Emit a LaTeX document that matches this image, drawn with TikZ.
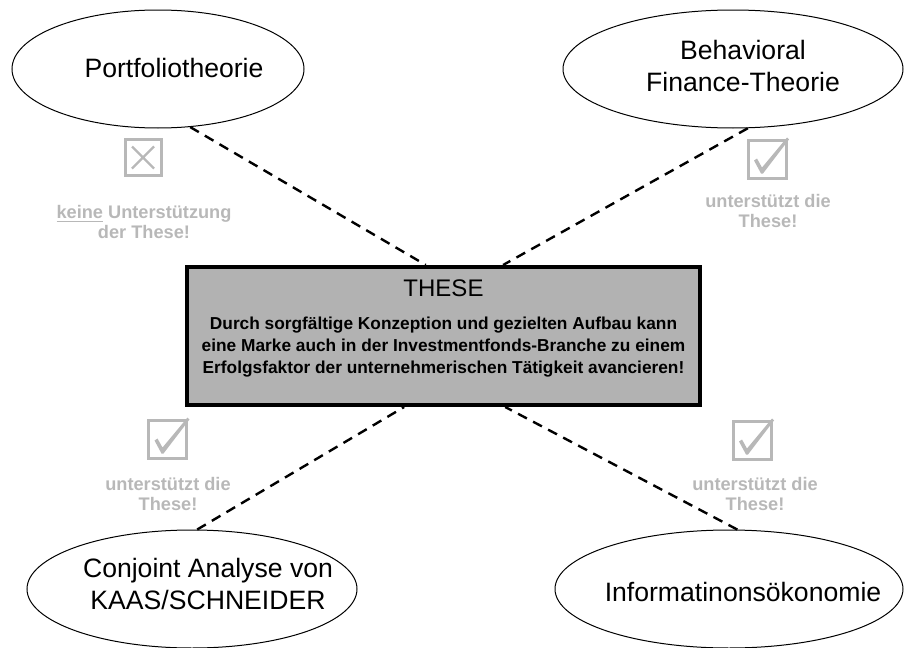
\documentclass[tikz,border=0pt]{standalone}
\usepackage{fontspec}
\setmainfont{Liberation Sans}
\usetikzlibrary{shapes.geometric}
\definecolor{iconGray}{gray}{0.72}
\definecolor{boxGray}{gray}{0.7}
\begin{document}
\begin{tikzpicture}[x=0.5pt,y=-0.5pt,
    theory/.style={ellipse,draw,line width=0.5pt,minimum height=59pt,inner sep=0pt},
    theorytext/.style={align=center,font=\fontsize{13.3}{16}\selectfont},
    verdict/.style={align=center,text=iconGray,font=\fontsize{9.1}{10}\selectfont\bfseries},
    link/.style={line width=1.2pt,dash pattern=on 5pt off 3.5pt},
    checkbox/.pic={
      \draw[iconGray,line width=1.5pt] (-19,-19) rectangle (19,19);
      \fill[iconGray] (-13,1) -- (-10,-1) -- (-5,8) -- (20,-22) -- (22,-20) -- (-4,14) -- (-6,14) -- cycle;
    },
    crossbox/.pic={
      \draw[iconGray,line width=1.5pt] (-18,-18) rectangle (18,18);
      \draw[iconGray,line width=1.2pt] (-11,-11) -- (11,11) (-11,11) -- (11,-11);
    }]
    \useasboundingbox (0,0) rectangle (906,648);

    % theories
    \node[theory,minimum width=146pt] (portf) at (158,69) {};
    \node[theorytext] (portft) at (174,68) {Portfoliotheorie};
    \node[theory,minimum width=170pt] (behav) at (733,69) {};
    \node[theorytext] (behavt) at (743,66) {Behavioral\\Finance-Theorie};
    \node[theory,minimum width=165pt] (conj) at (192,589) {};
    \node[theorytext] (conjt) at (208,584) {Conjoint Analyse von\\KAAS/SCHNEIDER};
    \node[theory,minimum width=174pt] (info) at (729,589) {};
    \node[theorytext] (infot) at (743,592) {Informatinonsökonomie};

    % the thesis
    \node[draw,line width=2pt,fill=boxGray,minimum width=256.5pt,minimum height=69pt,inner sep=0pt] (these) at (443.5,336) {};
    \node[font=\fontsize{12}{14}\selectfont] (thesetitle) at (443.5,288) {THESE};
    \node[align=center,font=\fontsize{8.65}{11}\selectfont\bfseries] (thesetext) at (443.5,347)
      {Durch sorgfältige Konzeption und gezielten Aufbau kann\\
       eine Marke auch in der Investmentfonds-Branche zu einem\\
       Erfolgsfaktor der unternehmerischen Tätigkeit avancieren!};

    \draw[link] (portf.-61) -- (these.104.4);
    \draw[link] (behav.-76.7) -- (these.50.4);
    \draw[link] (conj.85.2) -- (these.-119.4);
    \draw[link] (info.82.3) -- (these.-49.5);

    % verdicts
    \pic at (143,157.5) {crossbox};
    \pic at (767,159.5) {checkbox};
    \pic at (167.5,439.5) {checkbox};
    \pic at (752,440.5) {checkbox};
    \node[verdict] (portfv) at (144,222) {\underline{keine} Unterstützung\\der These!};
    \node[verdict] (behavv) at (768,211) {unterstützt die\\These!};
    \node[verdict] (conjv) at (168,494) {unterstützt die\\These!};
    \node[verdict] (infov) at (755,494) {unterstützt die\\These!};
\end{tikzpicture}
\end{document}
